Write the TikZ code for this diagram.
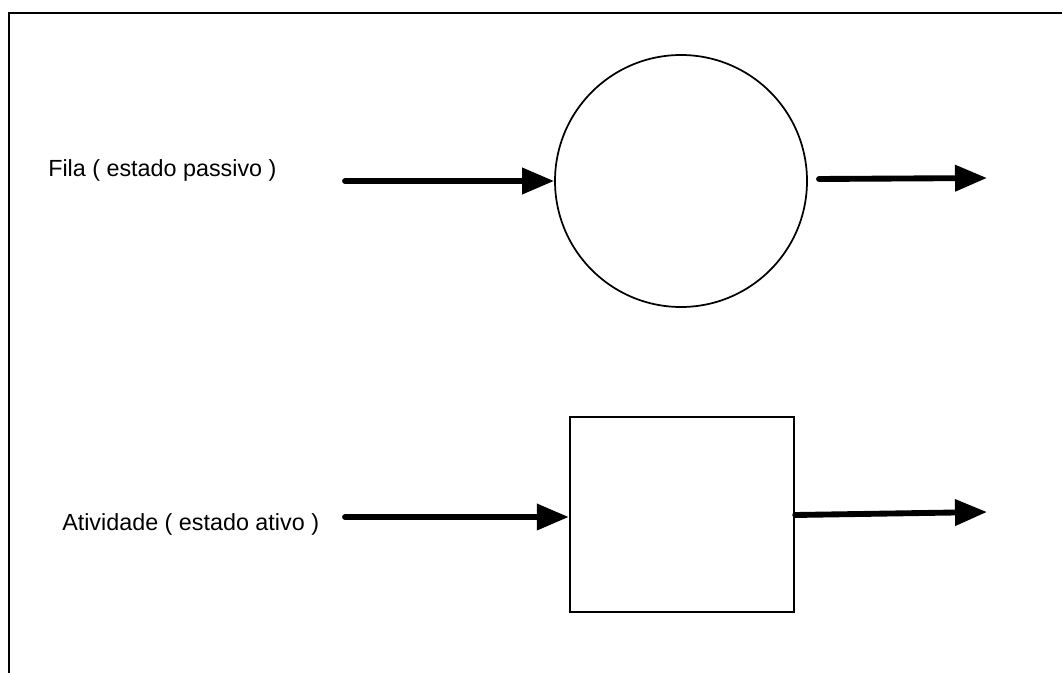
\documentclass[tikz,border=0pt]{standalone}
\usepackage{fontspec}
\setmainfont{Liberation Sans}
\usetikzlibrary{arrows.meta}
\begin{document}
\begin{tikzpicture}[x=0.75pt,y=-0.75pt,
  flow/.style={line width=4.4pt,line cap=round,-{Triangle[length=24pt,width=19pt]}},
  lbl/.style={anchor=base west,inner sep=0pt,font=\fontsize{17.5pt}{21pt}\selectfont},
  frame/.style={line width=1.8pt}]
\useasboundingbox (0,0) rectangle (1062,673);
\draw[frame] (9,673) -- (9,13) -- (1062,13);
\node[circle,draw,line width=1.3pt,minimum size=252*0.75pt,inner sep=0pt] (c) at (681,181) {};
\node[draw,line width=1.8pt,minimum width=224*0.75pt,minimum height=195*0.75pt,inner sep=0pt] (r) at (682,514.5) {};
\node[lbl] (t1) at (48,177) {Fila ( estado passivo )};
\node[lbl] (t2) at (62,530) {Atividade ( estado ativo )};
\coordinate (a1) at (345,181);
\coordinate (a2s) at (819,179);
\coordinate (a2e) at (987,178);
\coordinate (b1) at (345,517);
\coordinate (b2e) at (987,512);
\draw[flow] (a1) -- (c.west);
\draw[flow] (a2s) -- (a2e);
\draw[flow] (b1) -- (r.west |- b1);
\draw[flow] (r.east |- 0,515) -- (b2e);
\end{tikzpicture}
\end{document}
